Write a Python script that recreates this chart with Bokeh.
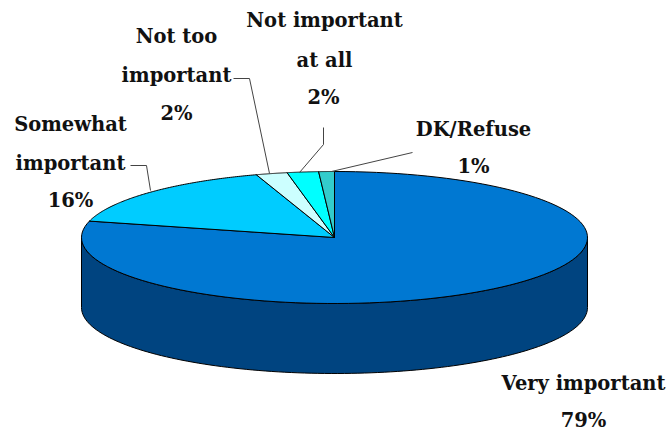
import numpy as np
from bokeh.core.properties import value
from bokeh.embed import file_html
from bokeh.models import Range1d
from bokeh.plotting import figure
from bokeh.resources import INLINE

categories = ["Very important", "Somewhat important", "Not too important", "Not important at all", "DK/Refuse"]
shares = [79, 16, 2, 2, 1]
top_colors = ["#0078D2", "#00CCFF", "#CCFFFF", "#00FFFF", "#33CCCC"]
side_color = "#004480"

# Tilted pie: centre, radii and extrusion depth in pixels
CX, CY, RX, RY, DEPTH = 334, 237, 253, 66, 70


def rim(start, stop, n=120):
    """Ellipse points between two clockwise angles measured from the top."""
    t = np.radians(np.linspace(start, stop, n))
    return CX + RX * np.sin(t), CY - RY * np.cos(t)


p = figure(width=670, height=434, output_backend="svg", toolbar_location=None,
           x_range=Range1d(0, 670), y_range=Range1d(434, 0),
           min_border=0, outline_line_color=None, background_fill_color="white")
p.axis.visible = False
p.grid.visible = False

# Side wall: the front half of the rim pushed down by the depth
sx, sy = rim(90, 270)
p.patch(np.r_[sx, sx[::-1]], np.r_[sy, sy[::-1] + DEPTH],
        fill_color=side_color, line_color="black", line_width=1)

# Top face, one wedge per category
edges = np.cumsum([0] + shares) / sum(shares) * 360
for start, stop, color in zip(edges[:-1], edges[1:], top_colors):
    wx, wy = rim(start, stop)
    p.patch(np.r_[CX, wx], np.r_[CY, wy], fill_color=color,
            line_color="black", line_width=1)

# Leader lines from the outside labels to their wedges
leaders = [
    ([130, 146, 150], [165, 165, 190]),
    ([233, 249, 269], [78, 78, 173]),
    ([323, 323, 299], [127, 144, 172]),
    ([412, 331], [152, 171]),
]
for lx, ly in leaders:
    p.line(lx, ly, line_color="#444444", line_width=1)

# Category labels and percentages, broken over several lines
label_lines = [
    ("Very important", 583, 383), (f"{shares[0]}%", 583, 420),
    ("Somewhat", 70, 124), ("important", 70, 163), (f"{shares[1]}%", 70, 200),
    ("Not too", 176, 36), ("important", 176, 75), (f"{shares[2]}%", 176, 113),
    ("Not important", 324, 20), ("at all", 324, 60), (f"{shares[3]}%", 323, 97),
    ("DK/Refuse", 473, 129), (f"{shares[4]}%", 473, 166),
]
p.text([l[1] for l in label_lines], [l[2] for l in label_lines],
       text=[l[0] for l in label_lines], text_align="center", text_baseline="middle",
       text_font=value("DejaVu Serif"), text_font_style="bold",
       text_font_size="19.5px", text_color="#111111")

open("out.html", "w").write(file_html(p, INLINE))
